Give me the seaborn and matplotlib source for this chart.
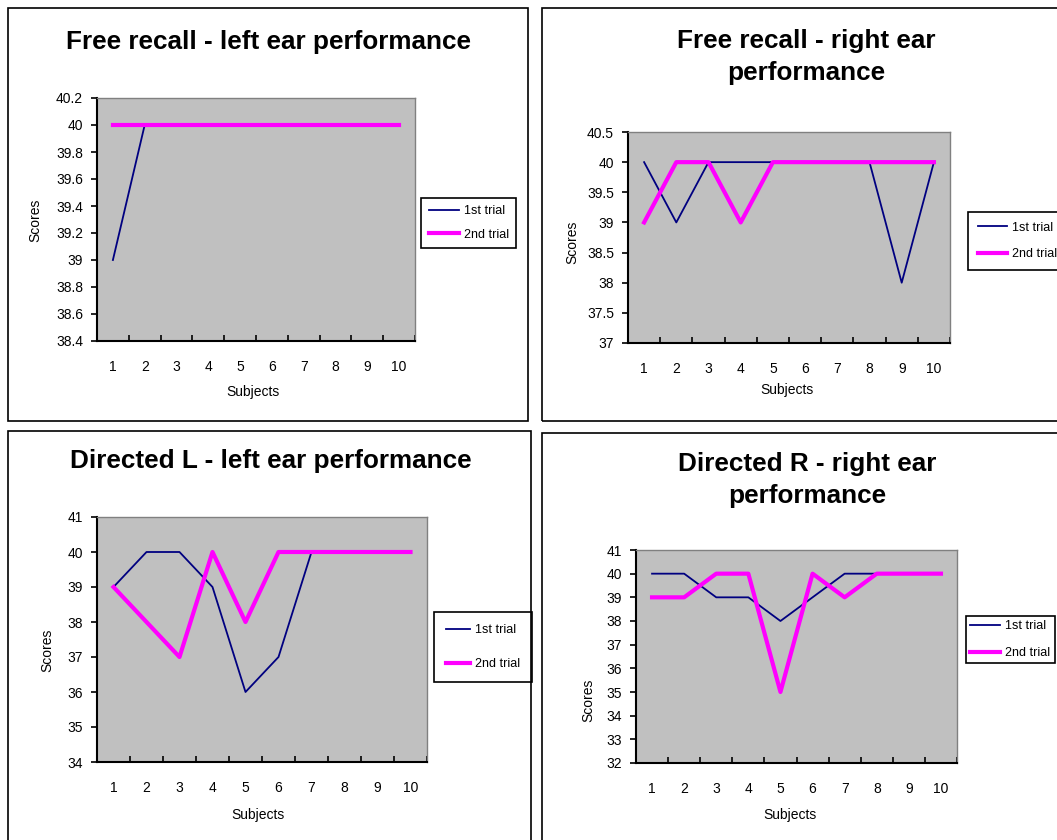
import numpy as np
import pandas as pd
import matplotlib
matplotlib.use('Agg')
import matplotlib.pyplot as plt
import seaborn as sns
from matplotlib.patches import Rectangle
from matplotlib.ticker import FixedLocator, FuncFormatter

# ---------------- data ----------------
subjects = [1, 2, 3, 4, 5, 6, 7, 8, 9, 10]
trial_labels = ['1st trial', '2nd trial']

free_left_1st = [39, 40, 40, 40, 40, 40, 40, 40, 40, 40]
free_left_2nd = [40, 40, 40, 40, 40, 40, 40, 40, 40, 40]
free_right_1st = [40, 39, 40, 40, 40, 40, 40, 40, 38, 40]
free_right_2nd = [39, 40, 40, 39, 40, 40, 40, 40, 40, 40]
dirL_left_1st = [39, 40, 40, 39, 36, 37, 40, 40, 40, 40]
dirL_left_2nd = [39, 38, 37, 40, 38, 40, 40, 40, 40, 40]
dirR_right_1st = [40, 40, 39, 39, 38, 39, 40, 40, 40, 40]
dirR_right_2nd = [39, 39, 40, 40, 35, 40, 39, 40, 40, 40]

titles = ['Free recall - left ear performance',
          'Free recall - right ear\nperformance',
          'Directed L - left ear performance',
          'Directed R - right ear\nperformance']
y_ticks = [[38.4, 38.6, 38.8, 39.0, 39.2, 39.4, 39.6, 39.8, 40.0, 40.2],
           [37.0, 37.5, 38.0, 38.5, 39.0, 39.5, 40.0, 40.5],
           [34, 35, 36, 37, 38, 39, 40, 41],
           [32, 33, 34, 35, 36, 37, 38, 39, 40, 41]]
series = [(free_left_1st, free_left_2nd), (free_right_1st, free_right_2nd),
          (dirL_left_1st, dirL_left_2nd), (dirR_right_1st, dirR_right_2nd)]

# ---------------- layout (pixels) ----------------
W, H = 1057, 840
BLUE = '#000080'
MAGENTA = '#FF00FF'
GREY = '#C0C0C0'

layout = [
    dict(box=(8, 8, 528, 421), ax=(97, 98, 415, 341), title=(268, 42),
         leg=(421, 198), bp=0.6, hl=2.4, ls=0.9, ylab=(35, 220), xlab=(253, 392)),
    dict(box=(542, 8, 1065, 421), ax=(628, 132, 950, 343), title=(806, 57),
         leg=(968, 212), bp=0.78, hl=2.3, ls=1.16, ylab=(572, 242), xlab=(787, 390)),
    dict(box=(8, 431, 531, 850), ax=(97, 517, 427, 762), title=(271, 461),
         leg=(434, 612), bp=0.95, hl=1.9, ls=1.8, ylab=(47, 650), xlab=(258, 815)),
    dict(box=(542, 433, 1065, 850), ax=(636, 550, 957, 763), title=(807, 480),
         leg=(966, 616), bp=0.35, hl=2.4, ls=1.16, ylab=(588, 700), xlab=(790, 815)),
]

plt.rcParams['font.family'] = ['Liberation Sans', 'DejaVu Sans']

fig = plt.figure(figsize=(W / 100, H / 100), dpi=100)
fig.patch.set_facecolor('white')


def fx(x):
    return x / W


def fy(y):
    return 1 - y / H


for i, lay in enumerate(layout):
    # panel frame
    bx0, by0, bx1, by1 = lay['box']
    fig.patches.append(Rectangle((fx(bx0), fy(by1)), (bx1 - bx0) / W, (by1 - by0) / H,
                                 transform=fig.transFigure, fill=False,
                                 edgecolor='black', linewidth=1.2, zorder=0))
    ax0, ay0, ax1, ay1 = lay['ax']
    ax = fig.add_axes([fx(ax0), fy(ay1), (ax1 - ax0) / W, (ay1 - ay0) / H])
    ax.set_facecolor(GREY)

    s1, s2 = series[i]
    df = pd.DataFrame({
        'Subject': subjects + subjects,
        'Score': list(s1) + list(s2),
        'Trial': [trial_labels[0]] * len(s1) + [trial_labels[1]] * len(s2),
    })
    sns.lineplot(data=df, x='Subject', y='Score', hue='Trial', size='Trial',
                 hue_order=trial_labels, size_order=trial_labels,
                 palette={trial_labels[0]: BLUE, trial_labels[1]: MAGENTA},
                 sizes={trial_labels[0]: 1.3, trial_labels[1]: 3.0},
                 estimator=None, sort=False, legend=False, ax=ax)

    yt = y_ticks[i]
    ax.set_xlim(0.5, 10.5)
    ax.set_ylim(yt[0], yt[-1])
    ax.xaxis.set_major_locator(FixedLocator(subjects))
    ax.xaxis.set_minor_locator(FixedLocator([s + 0.5 for s in subjects]))
    ax.yaxis.set_major_locator(FixedLocator(yt))
    ax.yaxis.set_major_formatter(FuncFormatter(lambda v, _: f'{round(v, 2):g}'))
    ax.tick_params(axis='x', which='major', length=0, pad=14, labelsize=10)
    ax.tick_params(axis='x', which='minor', direction='in', length=4, width=1.2, color='black')
    ax.tick_params(axis='y', which='major', direction='out', length=4, width=1.2,
                   pad=6, labelsize=10)
    for side in ('left', 'bottom'):
        ax.spines[side].set_color('black')
        ax.spines[side].set_linewidth(1.5)
    for side in ('top', 'right'):
        ax.spines[side].set_color('#808080')
        ax.spines[side].set_linewidth(1.0)

    ax.set_xlabel('Subjects', fontsize=10, va='center')
    ax.xaxis.set_label_coords(fx(lay['xlab'][0]), fy(lay['xlab'][1]), transform=fig.transFigure)
    ax.set_ylabel('Scores', fontsize=10, va='center')
    ax.yaxis.set_label_coords(fx(lay['ylab'][0]), fy(lay['ylab'][1]), transform=fig.transFigure)

    fig.text(fx(lay['title'][0]), fy(lay['title'][1]), titles[i], ha='center', va='center',
             fontsize=18.8, fontweight='bold', linespacing=1.4)

    leg = ax.legend(handles=ax.lines[:2], labels=trial_labels, loc='upper left',
                    bbox_to_anchor=(fx(lay['leg'][0]), fy(lay['leg'][1])),
                    bbox_transform=fig.transFigure, borderaxespad=0, frameon=True,
                    fancybox=False, framealpha=1, edgecolor='black', fontsize=9,
                    handlelength=lay['hl'], handletextpad=0.4,
                    labelspacing=lay['ls'], borderpad=lay['bp'])
    leg.get_frame().set_linewidth(1.2)

fig.savefig('out.png', dpi=100)
